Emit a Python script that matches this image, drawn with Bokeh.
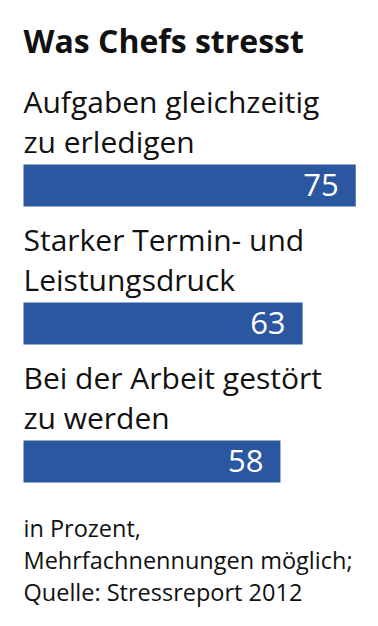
from bokeh.plotting import figure
from bokeh.models import Range1d, ColumnDataSource
from bokeh.embed import file_html
from bokeh.resources import INLINE
from bokeh.core.properties import value

# ---- data ----
title = "Was Chefs stresst"
label_line1 = ["Aufgaben gleichzeitig", "Starker Termin- und", "Bei der Arbeit gestört"]
label_line2 = ["zu erledigen", "Leistungsdruck", "zu werden"]
values = [75, 63, 58]
footer = ["in Prozent,", "Mehrfachnennungen möglich;", "Quelle: Stressreport 2012"]

# ---- layout ----
W, H = 362, 614
X0 = 23          # pixel of value 0
PX = 4.43        # pixels per unit
FONT = "Open Sans"
BAR_COLOR = "#2b57a0"
TEXT_COLOR = "#111111"
K = 0.36         # baseline correction factor

FS_LABEL, FS_VALUE, FS_TITLE, FS_FOOT = 30, 31, 32, 23.5

p = figure(width=W, height=H, output_backend="svg", toolbar_location=None,
           x_range=Range1d(-X0 / PX, (W - X0) / PX), y_range=Range1d(H, 0),
           min_border=0, outline_line_color=None, background_fill_color="white")
p.axis.visible = False
p.grid.visible = False

n = len(values)
bar_top = [164 + 138 * i for i in range(n)]
src = ColumnDataSource(dict(
    v=values, vs=[str(v) for v in values],
    top=bar_top, bottom=[t + 42 for t in bar_top],
    y1=[t - 52 - K * FS_LABEL for t in bar_top], y2=[t - 12 - K * FS_LABEL for t in bar_top],
    yv=[t + 32 - K * FS_VALUE for t in bar_top],
    l1=label_line1, l2=label_line2, zero=[0] * n,
))

p.quad(left="zero", right="v", top="top", bottom="bottom", source=src,
       fill_color=BAR_COLOR, line_color=None)

for col_y, col_t in (("y1", "l1"), ("y2", "l2")):
    p.text(x="zero", y=col_y, text=col_t, source=src, text_font=value(FONT),
           text_font_size=f"{FS_LABEL}px", text_color=TEXT_COLOR, text_baseline="alphabetic",
           text_align="left")

p.text(x="v", y="yv", text="vs", source=src, x_offset=-17, text_font=value(FONT),
       text_font_size=f"{FS_VALUE}px", text_color="white", text_baseline="alphabetic",
       text_align="right")

p.text(x=[0], y=[52 - K * FS_TITLE], text=[title], text_font=value(FONT), text_font_style="bold",
       text_font_size=f"{FS_TITLE}px", text_color=TEXT_COLOR, text_baseline="alphabetic")

fsrc = ColumnDataSource(dict(x=[0] * len(footer),
                             y=[536 - K * FS_FOOT + 32 * i for i in range(len(footer))], t=footer))
p.text(x="x", y="y", text="t", source=fsrc, text_font=value(FONT),
       text_font_size=f"{FS_FOOT}px", text_color=TEXT_COLOR, text_baseline="alphabetic")

open("out.html", "w").write(file_html(p, INLINE))
